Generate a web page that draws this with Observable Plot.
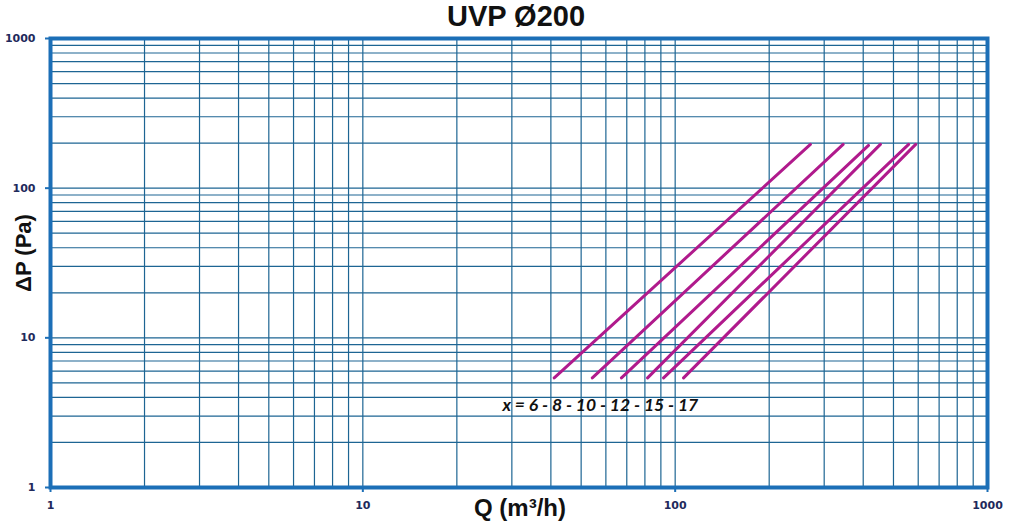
<!DOCTYPE html>
<html>
<head>
<meta charset="utf-8">
<script src="https://cdn.jsdelivr.net/npm/d3@7"></script>
<script src="https://cdn.jsdelivr.net/npm/@observablehq/plot@0.6"></script>
<style>
  html, body { margin: 0; padding: 0; background: #fff; }
</style>
</head>
<body>
<div id="chart"></div>
<script>
// ---- data ----
const curveLabels = ["6", "8", "10", "12", "15", "17"];
const qStart = [41.0, 54.3, 67.3, 81.6, 91.8, 106.4];
const qEnd   = [271, 345, 416, 454, 559, 589];
const pStart = [5.4, 5.4, 5.4, 5.4, 5.4, 5.4];
const pEnd   = [196, 196, 193, 196, 196, 196];
const majorTicks = [1, 10, 100, 1000];
const minorMultipliers = [1, 2, 3, 4, 5, 6, 7, 8, 9];
const decades = [1, 10, 100];
const titleText = "UVP Ø200";
const xLabel = "Q (m³/h)";
const yLabel = "ΔP (Pa)";
const annotation = "x = 6 - 8 - 10 - 12 - 15 - 17";
const annotationPos = {q: 28, p: 3.52};

// ---- derived ----
const gridValues = decades.flatMap(d => minorMultipliers.map(m => m * d)).concat([1000]);
const series = curveLabels.flatMap((k, i) => [
  {k, q: qStart[i], p: pStart[i]},
  {k, q: qEnd[i], p: pEnd[i]}
]);

const gridColor = "#1d6593";
const frameColor = "#1c6fb7";
const lineColor = "#b01a8c";
const tickColor = "#1f2a5c";

const chart = Plot.plot({
  width: 1010,
  height: 526,
  marginLeft: 50,
  marginRight: 23,
  marginTop: 38,
  marginBottom: 39,
  style: {background: "#fff"},
  x: {type: "log", domain: [1, 1000]},
  y: {type: "log", domain: [1, 1000]},
  marks: [
    Plot.ruleX(gridValues, {stroke: gridColor, strokeWidth: 1.2}),
    Plot.ruleY(gridValues, {stroke: gridColor, strokeWidth: 1.2}),
    Plot.line(series, {x: "q", y: "p", z: "k", stroke: lineColor, strokeWidth: 3, strokeLinecap: "round"}),
    Plot.frame({stroke: frameColor, strokeWidth: 4}),
    Plot.axisX({ticks: majorTicks, tickFormat: d => String(d), tickSize: 5, tickPadding: 9, stroke: frameColor, strokeWidth: 2,
      fill: tickColor, fontSize: 11, fontWeight: "bold", fontFamily: "DejaVu Sans", label: null}),
    Plot.axisY({ticks: majorTicks, tickFormat: d => String(d), tickSize: 5, tickPadding: 10, stroke: frameColor, strokeWidth: 2,
      fill: tickColor, fontSize: 11, fontWeight: "bold", fontFamily: "DejaVu Sans", label: null}),
    Plot.text([titleText], {frameAnchor: "top", textAnchor: "middle", lineAnchor: "middle", dy: -22, dx: -3,
      fontSize: 29, fontWeight: "bold", fontFamily: "Liberation Sans", fill: "#111"}),
    Plot.text([yLabel], {frameAnchor: "left", textAnchor: "middle", lineAnchor: "middle", dx: -27, dy: -10, rotate: -90,
      fontSize: 22, fontWeight: "bold", fontFamily: "Liberation Sans", fill: "#111"}),
    Plot.text([xLabel], {frameAnchor: "bottom", textAnchor: "middle", lineAnchor: "middle", dy: 21, dx: 1,
      fontSize: 24, fontWeight: "bold", fontFamily: "Liberation Sans", fill: "#111"}),
    Plot.text([annotationPos], {x: "q", y: "p", text: () => annotation, textAnchor: "start", fontSize: 17.5,
      fontStyle: "italic", fontWeight: "bold", fontFamily: "Lato", fill: "#111"})
  ]
});
document.getElementById("chart").appendChild(chart);
</script>
</body>
</html>
